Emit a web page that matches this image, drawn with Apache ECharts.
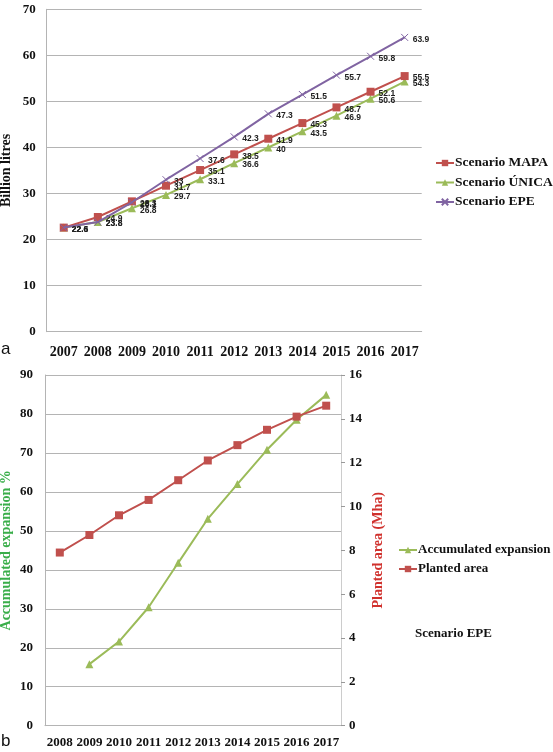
<!DOCTYPE html>
<html>
<head>
<meta charset="utf-8">
<script src="https://cdn.jsdelivr.net/npm/echarts@6/dist/echarts.min.js"></script>
<style>html,body{margin:0;padding:0;background:#fff}#c{width:553px;height:752px}</style>
</head>
<body>
<div id="c"></div>
<script>
// Chart a
var yearsA = ['2007','2008','2009','2010','2011','2012','2013','2014','2015','2016','2017'];
var mapa  = [22.6, 24.9, 28.3, 31.7, 35.1, 38.5, 41.9, 45.3, 48.7, 52.1, 55.5];
var unica = [22.6, 23.8, 26.8, 29.7, 33.1, 36.6, 40, 43.5, 46.9, 50.6, 54.3];
var epe   = [22.6, 23.8, 28.1, 33, 37.6, 42.3, 47.3, 51.5, 55.7, 59.8, 63.9];
// Chart b
var yearsB = ['2008','2009','2010','2011','2012','2013','2014','2015','2016','2017'];
var accumExpansion = [null, 15.8, 21.6, 30.4, 41.8, 53.1, 62.0, 70.8, 78.5, 84.9];
var plantedArea = [7.9, 8.7, 9.6, 10.3, 11.2, 12.1, 12.8, 13.5, 14.1, 14.6];

var SERIF = '"Liberation Serif", "Times New Roman", serif';
var SANS = '"Liberation Sans", Arial, sans-serif';
var RED = '#c0504d', GREEN = '#9bbb59', PURPLE = '#8064a2';
var GRID = '#b4b4b4';
var crossPath = 'path://M0,0L10,10M10,0L0,10';

var lbl = {show: true, position: 'right', distance: 4, offset: [0, 2],
  fontFamily: SANS, fontWeight: 'bold', fontSize: 8.5, color: '#222'};

var chart = echarts.init(document.getElementById('c'), null, {renderer: 'canvas'});
chart.setOption({
  animation: false,
  grid: [
    {left: 46.7, top: 9.3, width: 375, height: 322.4, outerBoundsMode: 'none', containLabel: false},
    {left: 45, top: 375, width: 296, height: 350.7, outerBoundsMode: 'none', containLabel: false}
  ],
  xAxis: [
    {type: 'category', gridIndex: 0, data: yearsA, boundaryGap: true,
     axisLine: {lineStyle: {color: GRID}}, axisTick: {show: false},
     axisLabel: {fontFamily: SERIF, fontWeight: 'bold', fontSize: 14, color: '#111', margin: 14, interval: 0}},
    {type: 'category', gridIndex: 1, data: yearsB, boundaryGap: true,
     axisLine: {lineStyle: {color: GRID}}, axisTick: {show: false},
     axisLabel: {fontFamily: SERIF, fontWeight: 'bold', fontSize: 13, color: '#111', margin: 10, interval: 0}}
  ],
  yAxis: [
    {type: 'value', gridIndex: 0, min: 0, max: 70, interval: 10,
     name: 'Billion litres', nameLocation: 'middle', nameGap: 33, nameMoveOverlap: false,
     nameTextStyle: {fontFamily: SERIF, fontWeight: 'bold', fontSize: 14, color: '#111'},
     axisLine: {show: true, lineStyle: {color: GRID}}, axisTick: {show: false},
     splitLine: {lineStyle: {color: GRID}},
     axisLabel: {fontFamily: SERIF, fontWeight: 'bold', fontSize: 13, color: '#111', margin: 11}},
    {type: 'value', gridIndex: 1, min: 0, max: 90, interval: 10, position: 'left',
     name: 'Accumulated expansion %', nameLocation: 'middle', nameGap: 32, nameMoveOverlap: false,
     nameTextStyle: {fontFamily: SERIF, fontWeight: 'bold', fontSize: 14, color: '#3aae4a'},
     axisLine: {show: true, lineStyle: {color: GRID}}, axisTick: {show: false},
     splitLine: {lineStyle: {color: GRID}},
     axisLabel: {fontFamily: SERIF, fontWeight: 'bold', fontSize: 13, color: '#111', margin: 12}},
    {type: 'value', gridIndex: 1, min: 0, max: 16, interval: 2, position: 'right',
     name: 'Planted area (Mha)', nameLocation: 'middle', nameGap: 30, nameMoveOverlap: false,
     nameTextStyle: {fontFamily: SERIF, fontWeight: 'bold', fontSize: 14, color: '#d0312d'},
     axisLine: {show: true, lineStyle: {color: '#cccccc'}},
     axisTick: {show: true, length: 4, lineStyle: {color: '#999'}},
     splitLine: {show: false},
     axisLabel: {fontFamily: SERIF, fontWeight: 'bold', fontSize: 13, color: '#111', margin: 8}}
  ],
  legend: [
    {orient: 'vertical', left: 435, top: 156, padding: 0, itemWidth: 18, itemHeight: 8, itemGap: 5.5,
     textStyle: {fontFamily: SERIF, fontWeight: 'bold', fontSize: 13.5, color: '#111', lineHeight: 14, padding: [0,0,0,-4]},
     data: ['Scenario MAPA', 'Scenario ÚNICA', 'Scenario EPE']},
    {orient: 'vertical', left: 398, top: 543, padding: 0, itemWidth: 18, itemHeight: 8, itemGap: 5,
     textStyle: {fontFamily: SERIF, fontWeight: 'bold', fontSize: 13, color: '#111', lineHeight: 14, padding: [0,0,0,-4]},
     data: ['Accumulated expansion', 'Planted area']}
  ],
  series: [
    {name: 'Scenario MAPA', type: 'line', xAxisIndex: 0, yAxisIndex: 0, data: mapa,
     symbol: 'rect', symbolSize: 8, lineStyle: {color: RED, width: 2}, itemStyle: {color: RED}, label: lbl, z: 3},
    {name: 'Scenario ÚNICA', type: 'line', xAxisIndex: 0, yAxisIndex: 0, data: unica,
     symbol: 'triangle', symbolSize: 8, lineStyle: {color: GREEN, width: 2}, itemStyle: {color: GREEN}, label: lbl, z: 2},
    {name: 'Scenario EPE', type: 'line', xAxisIndex: 0, yAxisIndex: 0, data: epe,
     symbol: crossPath, symbolSize: 7, lineStyle: {color: PURPLE, width: 2},
     itemStyle: {color: PURPLE, borderColor: PURPLE, borderWidth: 1}, label: lbl, z: 4},
    {name: 'Accumulated expansion', type: 'line', xAxisIndex: 1, yAxisIndex: 1, data: accumExpansion,
     symbol: 'triangle', symbolSize: 8, lineStyle: {color: GREEN, width: 2}, itemStyle: {color: GREEN}},
    {name: 'Planted area', type: 'line', xAxisIndex: 1, yAxisIndex: 2, data: plantedArea,
     symbol: 'rect', symbolSize: 8, lineStyle: {color: RED, width: 2}, itemStyle: {color: RED}}
  ],
  graphic: [
    {type: 'text', left: 1, top: 341, style: {text: 'a', fontFamily: SANS, fontSize: 17, fill: '#111'}},
    {type: 'text', left: 1, top: 733, style: {text: 'b', fontFamily: SANS, fontSize: 17, fill: '#111'}},
    {type: 'text', left: 415, top: 627, style: {text: 'Scenario EPE', fontFamily: SERIF, fontWeight: 'bold', fontSize: 13, fill: '#111'}}
  ]
});
</script>
</body>
</html>
